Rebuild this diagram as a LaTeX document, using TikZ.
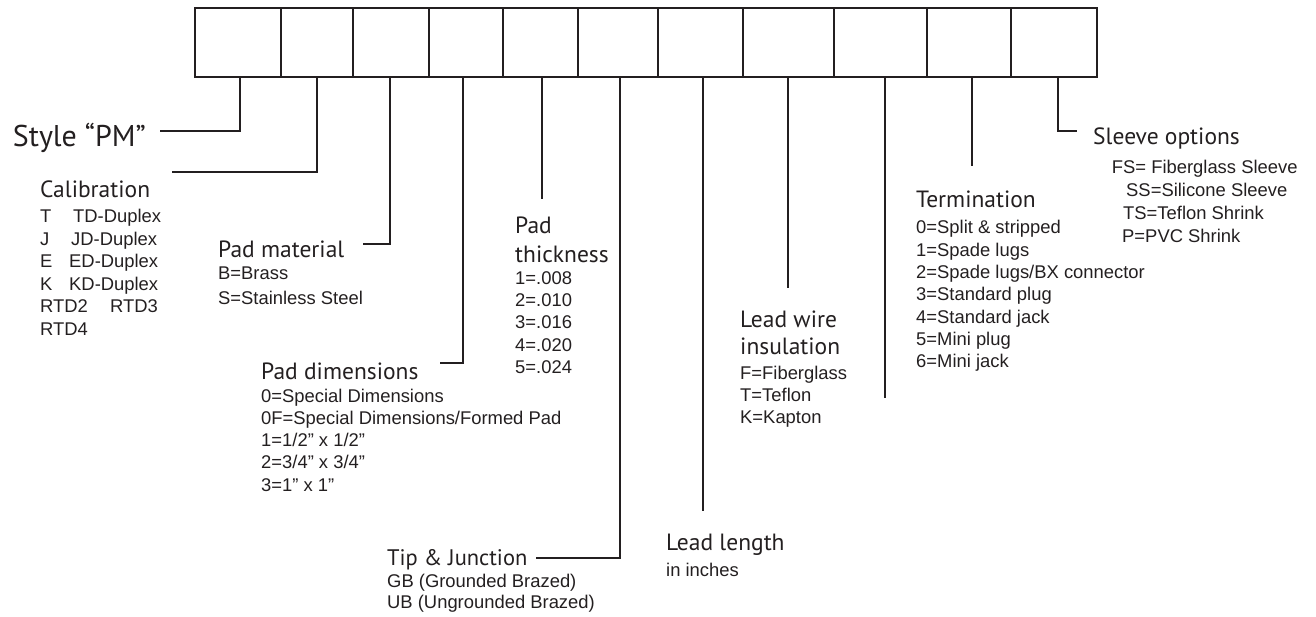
\documentclass[tikz,border=0pt]{standalone}
\usepackage{fontspec}
\newfontfamily\headfont{PT Sans}
\newfontfamily\itemfont{Liberation Sans}
\definecolor{ink}{RGB}{35,31,32}

\begin{document}
\begin{tikzpicture}[x=1pt,y=-1pt]
\useasboundingbox (0,0) rectangle (1316,617);
\tikzset{
  frame/.style={draw=ink, line width=2.4pt},
  leader/.style={draw=ink, line width=2.2pt, line join=miter},
  % multi-line nodes sit on the baseline of their last line
  head/.style={font=\headfont\fontsize{23.5}{26.7}\selectfont, text=ink,
               inner sep=0pt, anchor=base west, align=left},
  items/.style={font=\itemfont\fontsize{18.4}{22.4}\selectfont, text=ink,
               inner sep=0pt, anchor=base west, align=left},
}

% row of code boxes
\draw[frame] (195,8) rectangle (1097,77);
\foreach \xx in {281,353,429,503,578,658,743,834,927,1011}
  \draw[frame] (\xx,8) -- (\xx,77);

% tops of the leader lines
\foreach \i/\xx in {1/240,2/317,3/390,4/463,5/542,6/620,7/703,8/788,9/885,10/972,11/1058}
  \coordinate (t\i) at (\xx,77);

% free ends of the leader lines
\coordinate (e1) at (160,131);
\coordinate (e2) at (172,172);
\coordinate (e3) at (363,244);
\coordinate (e4) at (440,363);
\coordinate (e5) at (542,199);
\coordinate (e6) at (536,558);
\coordinate (e7) at (703,511);
\coordinate (e8) at (788,288);
\coordinate (e9) at (885,398);
\coordinate (e10) at (972,166);
\coordinate (e11) at (1077,131);

% labels
\node[head, font=\headfont\fontsize{30}{32}\selectfont] (style) at (12.7,147) {Style “PM”};

\node[head] (calib) at (40,197.5) {Calibration};
\node[items] (calibL) at (40,335) {\makebox[33pt][l]{T}TD-Duplex\\
  \makebox[31pt][l]{J}JD-Duplex\\
  \makebox[29pt][l]{E}ED-Duplex\\
  \makebox[29pt][l]{K}KD-Duplex\\
  \makebox[70pt][l]{RTD2}RTD3\\
  RTD4};

\node[head] (padmat) at (218,257.5) {Pad material};
\node[items, font=\itemfont\fontsize{18.4}{25}\selectfont] (padmatL) at (218,304.5)
  {B=Brass\\S=Stainless Steel};

\node[head] (paddim) at (261,379) {Pad dimensions};
\node[items, font=\itemfont\fontsize{18.4}{22.25}\selectfont] (paddimL) at (261,491)
  {0=Special Dimensions\\0F=Special Dimensions/Formed Pad\\1=1/2” x 1/2”\\2=3/4” x 3/4”\\3=1” x 1”};

\node[head, font=\headfont\fontsize{23.5}{28.3}\selectfont] (padth) at (515,262.3) {Pad\\thickness};
\node[items] (padthL) at (515,373.6) {1=.008\\2=.010\\3=.016\\4=.020\\5=.024};

\node[head, font=\headfont\fontsize{22.5}{26}\selectfont] (tip) at (387,565) {Tip \& Junction};
\node[items, font=\itemfont\fontsize{18.4}{21}\selectfont] (tipL) at (387,608)
  {GB (Grounded Brazed)\\UB (Ungrounded Brazed)};

\node[head] (llen) at (666,550.5) {Lead length};
\node[items] (llenL) at (666,576) {in inches};

\node[head] (lwire) at (740,354.2) {Lead wire\\insulation};
\node[items] (lwireL) at (740,423.8) {F=Fiberglass\\T=Teflon\\K=Kapton};

\node[head] (term) at (916,208) {Termination};
\node[items, font=\itemfont\fontsize{18.4}{22.35}\selectfont] (termL) at (916,367.8)
  {0=Split \& stripped\\1=Spade lugs\\2=Spade lugs/BX connector\\3=Standard plug\\4=Standard jack\\5=Mini plug\\6=Mini jack};

\node[head] (sleeve) at (1093,144.5) {Sleeve options};
\node[items, font=\itemfont\fontsize{18.4}{23}\selectfont] (sleeveL) at (1093,243)
  {\hspace*{18.7pt}FS= Fiberglass Sleeve\\
   \hspace*{33pt}SS=Silicone Sleeve\\
   \hspace*{30pt}TS=Teflon Shrink\\
   \hspace*{29pt}P=PVC Shrink};

% leader lines from each box down to its label
\draw[leader] (t1) |- (e1);
\draw[leader] (t2) |- (e2);
\draw[leader] (t3) |- (e3);
\draw[leader] (t4) |- (e4);
\draw[leader] (t5) -- (e5);
\draw[leader] (t6) |- (e6);
\draw[leader] (t7) -- (e7);
\draw[leader] (t8) -- (e8);
\draw[leader] (t9) -- (e9);
\draw[leader] (t10) -- (e10);
\draw[leader] (t11) |- (e11);
\end{tikzpicture}
\end{document}
